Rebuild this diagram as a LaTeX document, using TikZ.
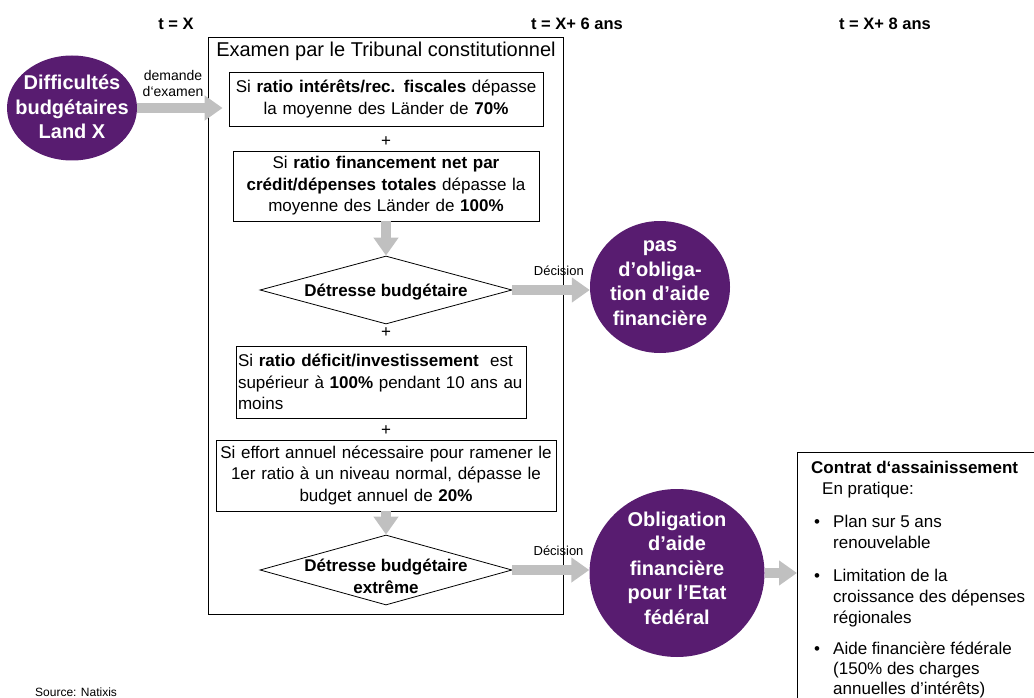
\documentclass[tikz,border=0pt]{standalone}
\usepackage{fontspec}
\setmainfont{Liberation Sans}
\usetikzlibrary{arrows.meta,shapes.geometric,calc}
\definecolor{purp}{RGB}{88,28,112}
\definecolor{arrgray}{RGB}{192,192,192}
\begin{document}
\begin{tikzpicture}[x=1pt,y=-1pt,
  body/.style={font=\fontsize{17}{21.5}\selectfont},
  cbox/.style={draw=black,line width=0.8pt,inner sep=0pt,align=center,body},
  blob/.style={ellipse,fill=purp,inner sep=0pt},
  blobtext/.style={text=white,font=\fontsize{20}{24.5}\selectfont\bfseries,align=center},
  dia/.style={diamond,draw,line width=0.8pt,inner sep=0pt,minimum width=252pt},
  diatext/.style={font=\fontsize{17}{22}\selectfont\bfseries,align=center},
  garrow/.style={draw=arrgray,line width=10pt,-{Triangle[width=24pt,length=18pt]}},
  hdr/.style={font=\fontsize{16.5}{20}\selectfont\bfseries},
  lbl/.style={font=\fontsize{14}{16}\selectfont,inner sep=0pt,align=center},
  ctext/.style={body,anchor=base west,inner sep=0pt},
]
\useasboundingbox (0,0) rectangle (1034,698);
\clip (0,0) rectangle (1034,698);

% headers
\node[hdr] (t0) at (176,24) {t = X};
\node[hdr] (t6) at (577,24) {t = X+ 6 ans};
\node[hdr] (t8) at (885,24) {t = X+ 8 ans};

% big examination frame
\node[draw,line width=0.8pt,minimum width=355pt,minimum height=577pt,inner sep=0pt] (exam) at (385.5,325.5) {};
\node[font=\fontsize{20}{24}\selectfont] (title) at (386,51) {Examen par le Tribunal constitutionnel};

% left blob
\node[blob,minimum width=130pt,minimum height=105pt,
  label={[blobtext,yshift=1pt]center:Difficultés\\budgétaires\\Land X}] (land) at (72,108) {};

% criteria boxes
\node[cbox,text width=314pt,minimum height=54pt] (b1) at (386,99)
  {Si \textbf{ratio intérêts/rec. fiscales} dépasse\\la moyenne des Länder de \textbf{70\%}};
\node[body] (p1) at (386,142) {+};
\node[cbox,text width=306pt,minimum height=70pt] (b2) at (386,186)
  {Si \textbf{ratio financement net par}\\\textbf{crédit/dépenses totales} dépasse la\\moyenne des Länder de \textbf{100\%}};
\node[dia,minimum height=68pt,label={[diatext,yshift=-2pt]center:Détresse budgétaire}] (d1) at (386,290) {};
\node[body] (p2) at (386,333) {+};
\node[cbox,text width=287pt,inner xsep=1.5pt,align=left,minimum height=72pt] (b3) at (381.5,382)
  {Si \textbf{ratio déficit/investissement}\ \ est\\supérieur à \textbf{100\%} pendant 10 ans au\\moins};
\node[body] (p3) at (386,431) {+};
\node[cbox,text width=340pt,minimum height=71pt] (b4) at (386,475.5)
  {Si effort annuel nécessaire pour ramener le\\1er ratio à un niveau normal, dépasse le\\budget annuel de \textbf{20\%}};
\node[dia,minimum height=70pt,label={[diatext,yshift=-6pt]center:Détresse budgétaire\\extrême}] (d2) at (386,570) {};

% outcome blobs
\node[blob,minimum width=140pt,minimum height=132pt,
  label={[blobtext,yshift=4pt]center:pas\\d’obliga-\\tion d’aide\\financière}] (nopas) at (660,287) {};
\node[blob,minimum width=175pt,minimum height=168pt,
  label={[blobtext,yshift=5pt]center:Obligation\\d’aide\\financière\\pour l’Etat\\fédéral}] (oblig) at (677,573) {};

% contract box
\node[draw,line width=0.8pt,anchor=north west,minimum width=260pt,minimum height=300pt,inner sep=0pt] (contrat) at (797,452) {};
\node[ctext,font=\fontsize{17}{21}\selectfont\bfseries] (c0) at (811,473) {Contrat d‘assainissement};
\node[ctext] (c1) at (822,494) {En pratique:};
\node[ctext] (bu1) at (814,527) {•};
\node[ctext] (c2) at (833,527) {Plan sur 5 ans};
\node[ctext] (c3) at (833,548) {renouvelable};
\node[ctext] (bu2) at (814,581) {•};
\node[ctext] (c4) at (833,581) {Limitation de la};
\node[ctext] (c5) at (833,602) {croissance des dépenses};
\node[ctext] (c6) at (833,623) {régionales};
\node[ctext] (bu3) at (814,654) {•};
\node[ctext] (c7) at (833,654) {Aide financière fédérale};
\node[ctext] (c8) at (833,674) {(150\% des charges};
\node[ctext] (c9) at (833,694) {annuelles d’intérêts)};

% source
\node[anchor=base west,inner sep=0pt,font=\fontsize{12}{14}\selectfont] (src) at (35,696.5) {Source: Natixis};

% arrows
\draw[garrow] (land.east) -- ($(land.east -| exam.west)+(15,0)$)
  node[lbl,pos=0.42,above=6pt] {demande\\d‘examen};
\draw[garrow] (b2.south) -- (d1.north);
\draw[garrow] (b4.south) -- (d2.north);
\draw[garrow] (d1.east) -- (d1.east -| nopas.west)
  node[lbl,font=\fontsize{13}{15}\selectfont,pos=0.6,above=9pt] {Décision};
\draw[garrow] (d2.east) -- (d2.east -| oblig.west)
  node[lbl,font=\fontsize{13}{15}\selectfont,pos=0.6,above=9pt] {Décision};
\draw[garrow] (oblig.east) -- (oblig.east -| contrat.west);
\end{tikzpicture}
\end{document}
